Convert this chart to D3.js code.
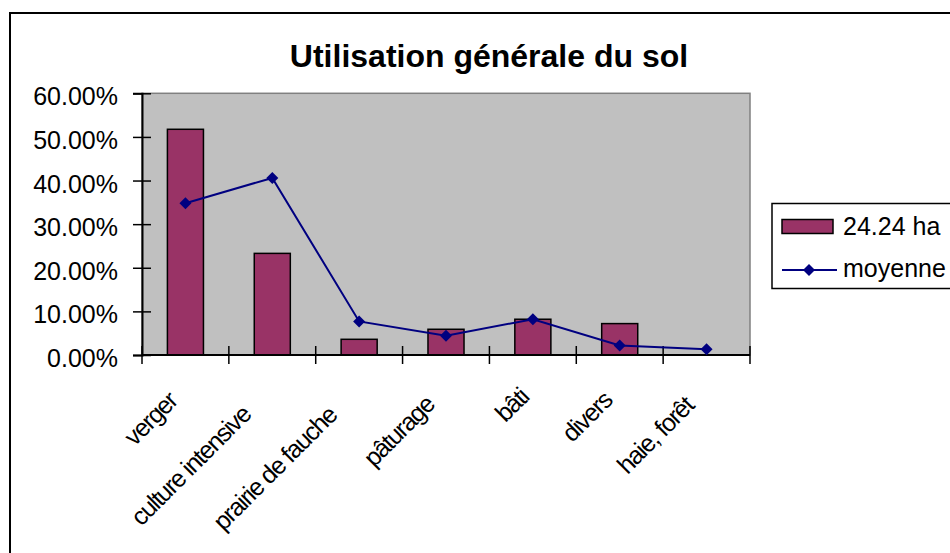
<!DOCTYPE html>
<html>
<head>
<meta charset="utf-8">
<script src="https://cdn.jsdelivr.net/npm/d3@7"></script>
<style>
  html, body { margin: 0; padding: 0; background: #fff; }
  svg { display: block; font-family: "Liberation Sans", Arial, sans-serif; }
</style>
</head>
<body>
<svg id="chart" width="950" height="553"></svg>
<script>
// Land use categories
const categories = ["verger", "culture intensive", "prairie de fauche", "pâturage", "bâti", "divers", "haie, forêt"];
// Share of the 24.24 ha holding
const surfaceValues = [0.5175, 0.233, 0.036, 0.059, 0.082, 0.072, 0];
// Average share
const moyenneValues = [0.348, 0.406, 0.077, 0.044, 0.082, 0.022, 0.013];
const yTicks = [0, 0.1, 0.2, 0.3, 0.4, 0.5, 0.6];
const seriesNames = ["24.24 ha", "moyenne"];
const title = "Utilisation générale du sol";

const svg = d3.select("#chart");
const plot = { left: 142, top: 93.3, right: 750, bottom: 355 };

// Outer chart frame (runs past the right and bottom edges)
svg.append("rect")
  .attr("x", 10).attr("y", 13)
  .attr("width", 980).attr("height", 580)
  .attr("fill", "#fff").attr("stroke", "#000").attr("stroke-width", 2);

// Title
svg.append("text")
  .attr("x", 489).attr("y", 67)
  .attr("text-anchor", "middle")
  .attr("font-size", 32).attr("font-weight", "bold")
  .text(title);

const x = d3.scaleBand().domain(categories).range([plot.left, plot.right]).padding(0);
const y = d3.scaleLinear().domain([0, 0.6]).range([plot.bottom, plot.top]);

// Plot area
svg.append("rect")
  .attr("x", plot.left).attr("y", plot.top)
  .attr("width", plot.right - plot.left).attr("height", plot.bottom - plot.top)
  .attr("fill", "#C0C0C0").attr("stroke", "#808080").attr("stroke-width", 1.5);

// Bars
const barW = x.bandwidth() * 0.415;
svg.append("g").selectAll("rect")
  .data(categories)
  .join("rect")
  .attr("x", (d) => x(d) + x.bandwidth() / 2 - barW / 2)
  .attr("y", (d, i) => y(surfaceValues[i]))
  .attr("width", barW)
  .attr("height", (d, i) => y(0) - y(surfaceValues[i]))
  .attr("fill", "#993366")
  .attr("stroke", "#000").attr("stroke-width", 1.5);

// Y axis with crossing tick marks
const yAxis = svg.append("g")
  .attr("transform", `translate(${plot.left},0)`)
  .call(d3.axisLeft(y).tickValues(yTicks).tickFormat(d3.format(".2%")).tickSize(9).tickPadding(15));
yAxis.select(".domain").attr("stroke", "#000").attr("stroke-width", 2);
yAxis.selectAll(".tick line").attr("x2", -9).attr("x1", 9).attr("stroke", "#000").attr("stroke-width", 1.5);
yAxis.selectAll(".tick text")
  .attr("font-size", 25).attr("font-family", "Liberation Sans, Arial, sans-serif")
  .attr("fill", "#000").attr("dy", "0.46em");

// X axis: line with crossing ticks at category boundaries
const xAxis = svg.append("g");
xAxis.append("line")
  .attr("x1", plot.left).attr("x2", plot.right)
  .attr("y1", y(0)).attr("y2", y(0))
  .attr("stroke", "#000").attr("stroke-width", 2);
const boundaries = categories.map((d) => x(d)).concat([x(categories[categories.length - 1]) + x.bandwidth()]);
xAxis.selectAll("line.tick")
  .data(boundaries)
  .join("line")
  .attr("class", "tick")
  .attr("x1", (d) => d).attr("x2", (d) => d)
  .attr("y1", y(0) - 9).attr("y2", y(0) + 9)
  .attr("stroke", "#000").attr("stroke-width", 1.5);

// Rotated category labels (tightly set)
const labels = xAxis.selectAll("g.label")
  .data(categories)
  .join("g")
  .attr("class", "label")
  .attr("transform", (d) => `translate(${x(d) + x.bandwidth() / 2},396) rotate(-45)`);
labels.append("text")
  .attr("text-anchor", "end")
  .attr("font-size", 25)
  .attr("letter-spacing", "-1.4px")
  .text((d) => d)
  .each(function () {
    const L = this.getComputedTextLength();
    d3.select(this).attr("x", -(0.2 * L - 3));
  });

// Average line with diamond markers
const line = d3.line()
  .x((d, i) => x(categories[i]) + x.bandwidth() / 2)
  .y((d) => y(d));
svg.append("path")
  .datum(moyenneValues)
  .attr("d", line)
  .attr("fill", "none")
  .attr("stroke", "#000080").attr("stroke-width", 2);

const diamond = (cx, cy, r) => `M${cx},${cy - r}L${cx + r},${cy}L${cx},${cy + r}L${cx - r},${cy}Z`;
svg.append("g").selectAll("path")
  .data(moyenneValues)
  .join("path")
  .attr("d", (d, i) => diamond(x(categories[i]) + x.bandwidth() / 2, y(d), 6))
  .attr("fill", "#000080");

// Legend
const legend = svg.append("g");
legend.append("rect")
  .attr("x", 772).attr("y", 203.5)
  .attr("width", 200).attr("height", 85)
  .attr("fill", "#fff").attr("stroke", "#000").attr("stroke-width", 1.5);
legend.append("rect")
  .attr("x", 782).attr("y", 219.5)
  .attr("width", 51).attr("height", 14)
  .attr("fill", "#993366").attr("stroke", "#000").attr("stroke-width", 1.5);
legend.append("text")
  .attr("x", 843).attr("y", 235)
  .attr("font-size", 25)
  .text(seriesNames[0]);
legend.append("line")
  .attr("x1", 782).attr("x2", 837)
  .attr("y1", 270).attr("y2", 270)
  .attr("stroke", "#000080").attr("stroke-width", 2);
legend.append("path")
  .attr("d", diamond(809, 270, 6))
  .attr("fill", "#000080");
legend.append("text")
  .attr("x", 843).attr("y", 277)
  .attr("font-size", 25)
  .text(seriesNames[1]);
</script>
</body>
</html>
